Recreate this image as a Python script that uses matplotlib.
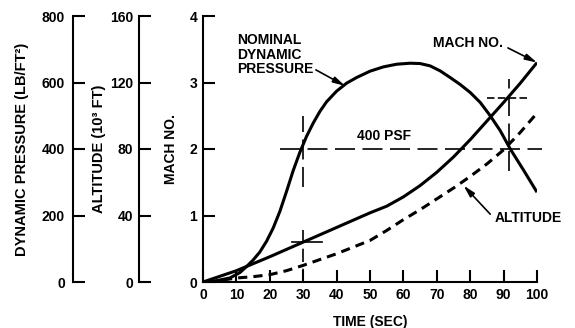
import matplotlib
matplotlib.use('Agg')
import matplotlib.pyplot as plt

plt.rcParams['font.family'] = ['Liberation Sans', 'DejaVu Sans']
plt.rcParams['font.weight'] = 'bold'

# dynamic pressure (lb/ft^2) vs time (sec)
q_time = [0, 4, 8, 11, 13, 15, 17, 19, 21, 23, 25, 27, 29, 31, 33, 35, 37, 40, 43, 46,
          50, 54, 58, 62, 65, 68, 71, 74, 77, 80, 83, 86, 89, 92, 96, 100]
q_psf = [0, 4, 12, 28, 46, 66, 90, 122, 162, 212, 272, 335, 390, 438, 478, 513, 542, 574, 598, 615,
         634, 647, 655, 658, 657, 650, 635, 615, 594, 570, 540, 500, 455, 400, 336, 270]

# mach number vs time
mach_time = [0, 10, 20, 30, 40, 50, 55, 60, 65, 70, 75, 80, 85, 90, 95, 100]
mach = [0, 0.17, 0.38, 0.6, 0.82, 1.04, 1.14, 1.28, 1.45, 1.65, 1.88, 2.14, 2.42, 2.7, 2.99, 3.3]

# altitude (10^3 ft) vs time
alt_time = [6, 10, 15, 20, 25, 30, 35, 40, 45, 50, 55, 60, 65, 70, 75, 80, 85, 90, 95, 100]
alt = [1.2, 2.4, 3.2, 4.4, 6.8, 10, 13.5, 17, 21, 25, 31, 37.5, 43.5, 50, 56.5, 63.5, 71, 79.5, 90, 101.6]

q_ticks = [0, 200, 400, 600, 800]
alt_ticks = [0, 40, 80, 120, 160]
mach_ticks = [0, 1, 2, 3, 4]
time_ticks = [0, 10, 20, 30, 40, 50, 60, 70, 80, 90, 100]

q_limit = 400          # psf reference line
cross_times = [30, 92]  # where the limit is crossed
cross_mach = [0.6, 2.77]

fig = plt.figure(figsize=(5.75, 3.28), dpi=100)
ax = fig.add_axes([203 / 575, 1 - 282 / 328, 334 / 575, 266 / 328])

tick_len = 8.6
lw_axis = 1.5
fs_tick = 10
fs_lab = 10

# main (mach) axes
ax.set_xlim(0, 100)
ax.set_ylim(0, 4)
ax.spines['top'].set_visible(False)
ax.spines['right'].set_visible(False)
for s in ['left', 'bottom']:
    ax.spines[s].set_linewidth(lw_axis)
ax.set_xticks(time_ticks)
ax.set_yticks(mach_ticks)
ax.tick_params(direction='in', length=tick_len, width=lw_axis, labelsize=fs_tick, pad=4.3)
ax.set_xlabel('TIME (SEC)', fontsize=fs_lab, fontweight='bold')
ax.xaxis.set_label_coords(0.5, -0.125)
ax.set_ylabel('MACH NO.', fontsize=fs_lab, fontweight='bold')
ax.yaxis.set_label_coords(-0.075, 0.5)

# dynamic pressure axis
axq = ax.twinx()
axq.set_ylim(0, 800)
for s in ['top', 'bottom', 'right']:
    axq.spines[s].set_visible(False)
axq.spines['left'].set_visible(True)
axq.spines['left'].set_position(('outward', 130 * 0.72))
axq.spines['left'].set_linewidth(lw_axis)
axq.yaxis.set_ticks_position('left')
axq.yaxis.set_label_position('left')
axq.set_yticks(q_ticks)
axq.tick_params(direction='in', length=tick_len, width=lw_axis, labelsize=fs_tick, pad=5.8)
axq.set_ylabel('DYNAMIC PRESSURE (LB/FT²)', fontsize=10.5, fontweight='bold')
axq.yaxis.set_label_coords(-0.522, 0.5)

# altitude axis
axa = ax.twinx()
axa.set_ylim(0, 160)
for s in ['top', 'bottom', 'right']:
    axa.spines[s].set_visible(False)
axa.spines['left'].set_visible(True)
axa.spines['left'].set_position(('outward', 64 * 0.72))
axa.spines['left'].set_linewidth(lw_axis)
axa.yaxis.set_ticks_position('left')
axa.yaxis.set_label_position('left')
axa.set_yticks(alt_ticks)
axa.tick_params(direction='in', length=tick_len, width=lw_axis, labelsize=fs_tick, pad=4.3)
axa.set_ylabel('ALTITUDE (10³ FT)', fontsize=10.5, fontweight='bold')
axa.yaxis.set_label_coords(-0.29, 0.5)

for a in (ax, axq, axa):
    for lab in a.get_xticklabels() + a.get_yticklabels():
        lab.set_fontweight('bold')

# curves
axq.plot(q_time, q_psf, color='black', lw=2.2, solid_capstyle='butt')
ax.plot(mach_time, mach, color='black', lw=2.2, solid_capstyle='butt')
axa.plot(alt_time, alt, color='black', lw=2.2, linestyle=(0, (3, 2)))

# 400 psf reference line and crosshairs
axq.plot([23, 101.5], [q_limit, q_limit], color='black', lw=1.2,
         linestyle=(0, (12, 4.5)), clip_on=False)
axq.plot([cross_times[0]] * 2, [q_limit - 115, q_limit + 100], color='black', lw=1.2,
         linestyle=(0, (12, 4.5)))
axq.plot([cross_times[1] - 0.5] * 2, [q_limit - 65, q_limit + 210], color='black', lw=1.2,
         linestyle=(0, (12, 4.5)))
ax.plot([cross_times[0]] * 2, [0, cross_mach[0] + 0.18], color='black', lw=1.2,
        linestyle=(0, (8, 4)))
ax.plot([cross_times[0] - 3.5, cross_times[0] + 5.5], [cross_mach[0]] * 2, color='black', lw=1.2)
ax.plot([cross_times[1] - 7, cross_times[1] + 5], [cross_mach[1]] * 2, color='black', lw=1.2,
        linestyle=(0, (4.5, 2)))

# labels and arrows
arrow = dict(arrowstyle='-|>,head_length=0.7,head_width=0.18', color='black', lw=1.2,
             shrinkA=0, shrinkB=0)
ax.text(10.2, 3.74, 'NOMINAL\nDYNAMIC\nPRESSURE', ha='left', va='top', fontsize=fs_lab,
        fontweight='bold', linespacing=1.05)
ax.annotate('', xy=(42.5, 2.95), xytext=(33.8, 3.19), arrowprops=arrow)
ax.text(89.8, 3.59, 'MACH NO.', ha='right', va='center', fontsize=fs_lab, fontweight='bold')
ax.annotate('', xy=(100, 3.3), xytext=(91.3, 3.52), arrowprops=arrow)
ax.text(87.4, 0.96, 'ALTITUDE', ha='left', va='center', fontsize=fs_lab, fontweight='bold')
ax.annotate('', xy=(78, 1.45), xytext=(86, 1.02), arrowprops=arrow)
ax.text(54.3, 2.19, '400 PSF', ha='center', va='center', fontsize=fs_lab, fontweight='bold')

fig.savefig('out.png', dpi=100)
